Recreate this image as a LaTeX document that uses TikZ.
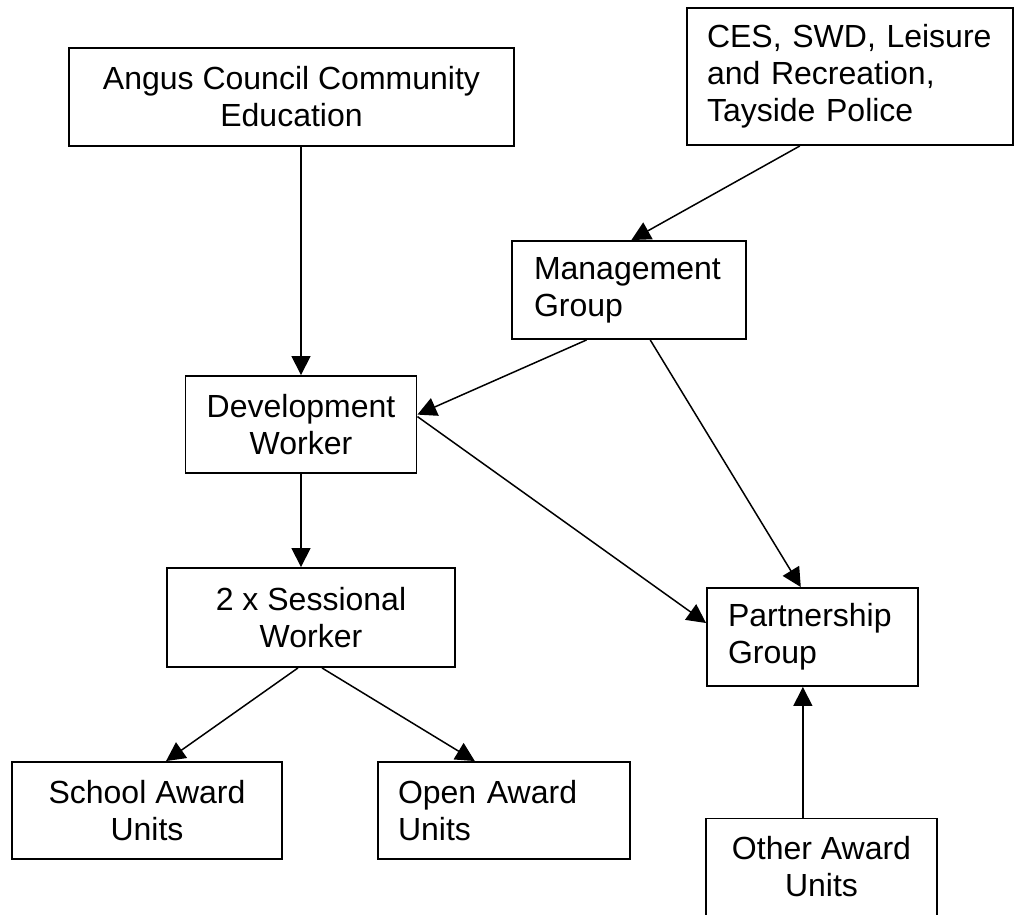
\documentclass[tikz,border=0pt]{standalone}
\usepackage{fontspec}
\setmainfont{Liberation Sans}
\usetikzlibrary{arrows.meta,calc}
\tikzset{
  box/.style={draw, line width=1.9pt, inner sep=0pt, align=center,
    font=\fontsize{32}{37}\selectfont},
  lbox/.style={box, align=left},
  conn/.style={line width=1.5pt, -{Triangle[length=19pt,width=19pt]}}
}
\begin{document}
\begin{tikzpicture}[x=1pt,y=-1pt]
\useasboundingbox (0,0) rectangle (1015,914);
\clip (0,0) rectangle (1015,914);
\fill[white] (0,0) rectangle (1015,914);
\node[box, minimum width=445pt, minimum height=98pt] (ang) at (291.5,97) {Angus Council Community\\Education};
\node[lbox, minimum width=326pt, minimum height=137pt, text width=286pt] (ces) at (850,76.5) {CES, SWD, Leisure\\and Recreation,\\Tayside Police};
\node[lbox, minimum width=234pt, minimum height=98pt, text width=190pt] (mgmt) at (629,290) {Management\\Group};
\node[box, minimum width=231pt, minimum height=97pt] (dev) at (301,424.5) {Development\\Worker};
\node[box, minimum width=288pt, minimum height=99pt] (sess) at (311,617.5) {2 x Sessional\\Worker};
\node[lbox, minimum width=211pt, minimum height=98pt, text width=169pt] (part) at (812.5,637) {Partnership\\Group};
\node[box, minimum width=270pt, minimum height=97pt] (school) at (147,810.5) {School Award\\Units};
\node[lbox, minimum width=252pt, minimum height=97pt, text width=212pt] (open) at (504,810.5) {Open Award\\Units};
\node[box, minimum width=231pt, minimum height=97pt] (other) at (821.5,867) {Other Award\\Units};

\draw[conn] (dev.north |- ang.south) -- (dev.north);
\draw[conn] ($(ces.south west)!0.347!(ces.south east)$) -- ($(mgmt.north west)!0.51!(mgmt.north east)$);
\draw[conn] ($(mgmt.south west)!0.32!(mgmt.south east)$) -- ($(dev.north east)!0.4!(dev.south east)$);
\draw[conn] ($(mgmt.south west)!0.59!(mgmt.south east)$) -- ($(part.north west)!0.445!(part.north east)$);
\draw[conn] ($(dev.north east)!0.42!(dev.south east)$) -- ($(part.north west)!0.36!(part.south west)$);
\draw[conn] (dev.south) -- (dev.south |- sess.north);
\draw[conn] ($(sess.south west)!0.455!(sess.south east)$) -- ($(school.north west)!0.57!(school.north east)$);
\draw[conn] ($(sess.south west)!0.538!(sess.south east)$) -- ($(open.north west)!0.385!(open.north east)$);
\coordinate (otop) at ($(other.north west)!0.42!(other.north east)$);
\draw[conn] (otop) -- (otop |- part.south);
\end{tikzpicture}
\end{document}
